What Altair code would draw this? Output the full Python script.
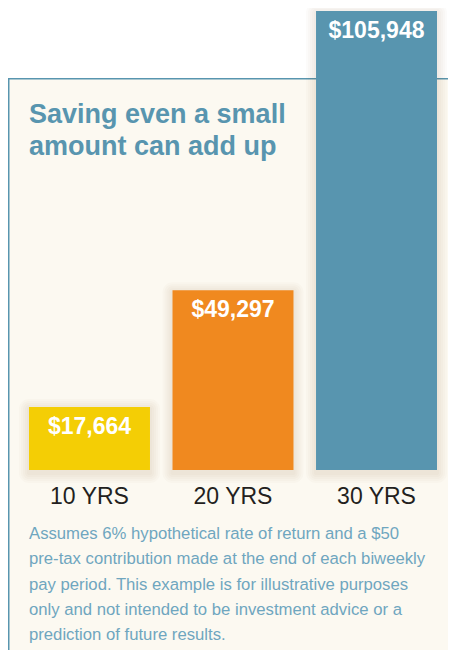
import altair as alt
import pandas as pd

periods = ["10 YRS", "20 YRS", "30 YRS"]
values = [17664, 49297, 105948]
bar_colors = ["#F4CE05", "#F0891F", "#5895AF"]
title_lines = ["Saving even a small", "amount can add up"]
note_lines = [
    "Assumes 6% hypothetical rate of return and a $50",
    "pre-tax contribution made at the end of each biweekly",
    "pay period. This example is for illustrative purposes",
    "only and not intended to be investment advice or a",
    "prediction of future results.",
]

TEAL = "#5895AF"
NOTE = "#6FA6BF"
CREAM = "#FCF9F1"
FONT = "Liberation Sans"
W = 440
H = 642

df = pd.DataFrame({"period": periods, "value": values})
one = pd.DataFrame({"k": [0]})

xenc = alt.X("period:N", sort=periods, axis=None,
             scale=alt.Scale(range=[21, 429], paddingInner=0.157, paddingOuter=0))
yscale = alt.Scale(type="pow", exponent=1.34, domain=[-12000, 105948],
                   range=[462, 3], nice=False, zero=False)
yenc = alt.Y("value:Q", axis=None, scale=yscale, stack=None)
cenc = alt.Color("period:N", scale=alt.Scale(domain=periods, range=bar_colors), legend=None)

box = alt.Chart(one).mark_rect(color=CREAM).encode(
    x=alt.value(0), x2=alt.value(W), y=alt.value(70), y2=alt.value(H))
left_rule = alt.Chart(one).mark_rule(color=TEAL, strokeWidth=1.5).encode(
    x=alt.value(0.75), y=alt.value(70), y2=alt.value(H))
top_rule = alt.Chart(one).mark_rule(color=TEAL, strokeWidth=1.5).encode(
    x=alt.value(0), x2=alt.value(W), y=alt.value(70.75))

shadows = []
for k in [2, 4, 6, 8, 10]:
    shadows.append(
        alt.Chart(df).mark_bar(
            color="#6b5a3a", opacity=0.022, width={"band": (121 + 2 * k) / 121},
            yOffset=-k + 2, y2Offset=k + 3, cornerRadius=k
        ).encode(x=xenc, y=yenc, y2=alt.value(462))
    )

bars = alt.Chart(df).mark_bar().encode(x=xenc, y=yenc, y2=alt.value(462), color=cenc)

val_text = alt.Chart(df).mark_text(
    font=FONT, fontSize=23, fontWeight="bold", color="white", dy=27, baseline="alphabetic"
).encode(x=xenc, y=yenc, text=alt.Text("value:Q", format="$,.0f"))

cat_text = alt.Chart(df).mark_text(
    font=FONT, fontSize=23, color="#231F20", baseline="alphabetic"
).encode(x=xenc, y=alt.value(496), text="period:N")

title = alt.Chart(one).mark_text(
    font=FONT, fontSize=27, fontWeight="bold", color=TEAL, align="left",
    baseline="alphabetic", lineHeight=32
).encode(x=alt.value(21), y=alt.value(115), text=alt.value(title_lines))

note = alt.Chart(one).mark_text(
    font=FONT, fontSize=16.7, color=NOTE, align="left",
    baseline="alphabetic", lineHeight=25.3
).encode(x=alt.value(21), y=alt.value(531), text=alt.value(note_lines))

chart = alt.layer(box, left_rule, top_rule, *shadows, bars, val_text, cat_text, title, note).properties(
    width=W, height=H, padding=0, autosize=alt.AutoSizeParams(type="none"),
    background="white"
).configure_view(stroke=None)

chart.save("out.html", embed_options={"renderer": "svg", "actions": False})
